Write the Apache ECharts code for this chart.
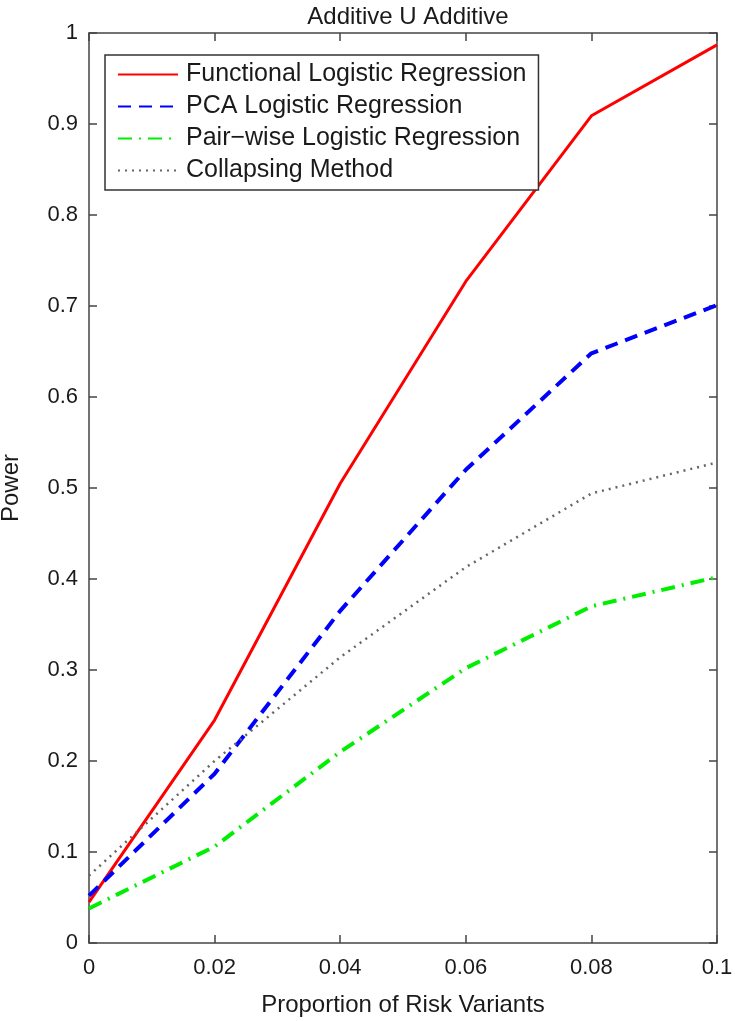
<!DOCTYPE html>
<html>
<head>
<meta charset="utf-8">
<script src="https://cdn.jsdelivr.net/npm/echarts@6/dist/echarts.min.js"></script>
<style>
html,body{margin:0;padding:0;background:#fff;}
#chart{width:735px;height:1021px;}
</style>
</head>
<body>
<div id="chart"></div>
<script>
const title = "Additive U Additive";
const xName = "Proportion of Risk Variants";
const yName = "Power";
const xValues = [0, 0.02, 0.04, 0.06, 0.08, 0.1];
const seriesNames = ["Functional Logistic Regression", "PCA Logistic Regression", "Pair\u2212wise Logistic Regression", "Collapsing Method"];
const functionalLR = [0.045, 0.245, 0.505, 0.727, 0.909, 0.987];
const pcaLR = [0.052, 0.186, 0.365, 0.52, 0.648, 0.701];
const pairwiseLR = [0.038, 0.106, 0.21, 0.302, 0.37, 0.402];
const collapsing = [0.074, 0.2, 0.314, 0.413, 0.494, 0.528];

const FONT = "'Liberation Sans', Arial, sans-serif";
const axisColor = '#444';
const zip = arr => xValues.map((x, i) => [x, arr[i]]);

const chart = echarts.init(document.getElementById('chart'), null, {renderer: 'canvas'});
const baseAxis = {
  axisLine: {show: true, onZero: false, lineStyle: {color: axisColor, width: 1.5}},
  axisTick: {show: true, inside: true, length: 8, lineStyle: {color: axisColor, width: 1.5}},
  splitLine: {show: false}
};
chart.setOption({
  animation: false,
  backgroundColor: '#fff',
  title: {
    text: title, left: 403, top: 0, textAlign: 'center',
    textStyle: {fontFamily: FONT, fontSize: 24, fontWeight: 'normal', color: '#1a1a1a'}
  },
  grid: {left: 89, right: 18, top: 33, bottom: 78, containLabel: false, outerBoundsMode: 'none'},
  legend: {
    orient: 'vertical', left: 105, top: 55,
    padding: [7, 12, 7, 12],
    borderColor: '#333', borderWidth: 1.5, backgroundColor: '#fff',
    itemWidth: 60, itemHeight: 14, itemGap: 7,
    itemStyle: {opacity: 0},
    textStyle: {fontFamily: FONT, fontSize: 25, color: '#1a1a1a', lineHeight: 24, padding: [0, 0, 0, 3]},
    data: seriesNames
  },
  xAxis: [{
    ...baseAxis, type: 'value', min: 0, max: 0.1, interval: 0.02, position: 'bottom',
    name: xName, nameLocation: 'middle', nameGap: 50,
    nameTextStyle: {fontFamily: FONT, fontSize: 24, color: '#1a1a1a'},
    axisLabel: {fontFamily: FONT, fontSize: 22, color: '#1a1a1a', margin: 14,
      formatter: v => String(+v.toFixed(2))}
  }, {
    ...baseAxis, type: 'value', min: 0, max: 0.1, interval: 0.02, position: 'top',
    axisLabel: {show: false}
  }],
  yAxis: [{
    ...baseAxis, type: 'value', min: 0, max: 1, interval: 0.1, position: 'left',
    name: yName, nameLocation: 'middle', nameGap: 66,
    nameTextStyle: {fontFamily: FONT, fontSize: 24, color: '#1a1a1a'},
    axisLabel: {fontFamily: FONT, fontSize: 22, color: '#1a1a1a', margin: 11,
      formatter: v => String(+v.toFixed(1))}
  }, {
    ...baseAxis, type: 'value', min: 0, max: 1, interval: 0.1, position: 'right',
    axisLabel: {show: false}
  }],
  series: [
    {name: seriesNames[0], type: 'line', data: zip(functionalLR), symbol: 'none',
     lineStyle: {color: '#ff0000', width: 3, type: 'solid'}, itemStyle: {color: '#ff0000'}},
    {name: seriesNames[1], type: 'line', data: zip(pcaLR), symbol: 'none',
     lineStyle: {color: '#0000ff', width: 4, type: [13, 8]}, itemStyle: {color: '#0000ff'}},
    {name: seriesNames[2], type: 'line', data: zip(pairwiseLR), symbol: 'none',
     lineStyle: {color: '#00ee00', width: 4, type: [14, 7, 2, 7]}, itemStyle: {color: '#00ee00'}},
    {name: seriesNames[3], type: 'line', data: zip(collapsing), symbol: 'none',
     lineStyle: {color: '#666', width: 2.5, type: [2, 5]}, itemStyle: {color: '#666'}}
  ]
});
</script>
</body>
</html>
